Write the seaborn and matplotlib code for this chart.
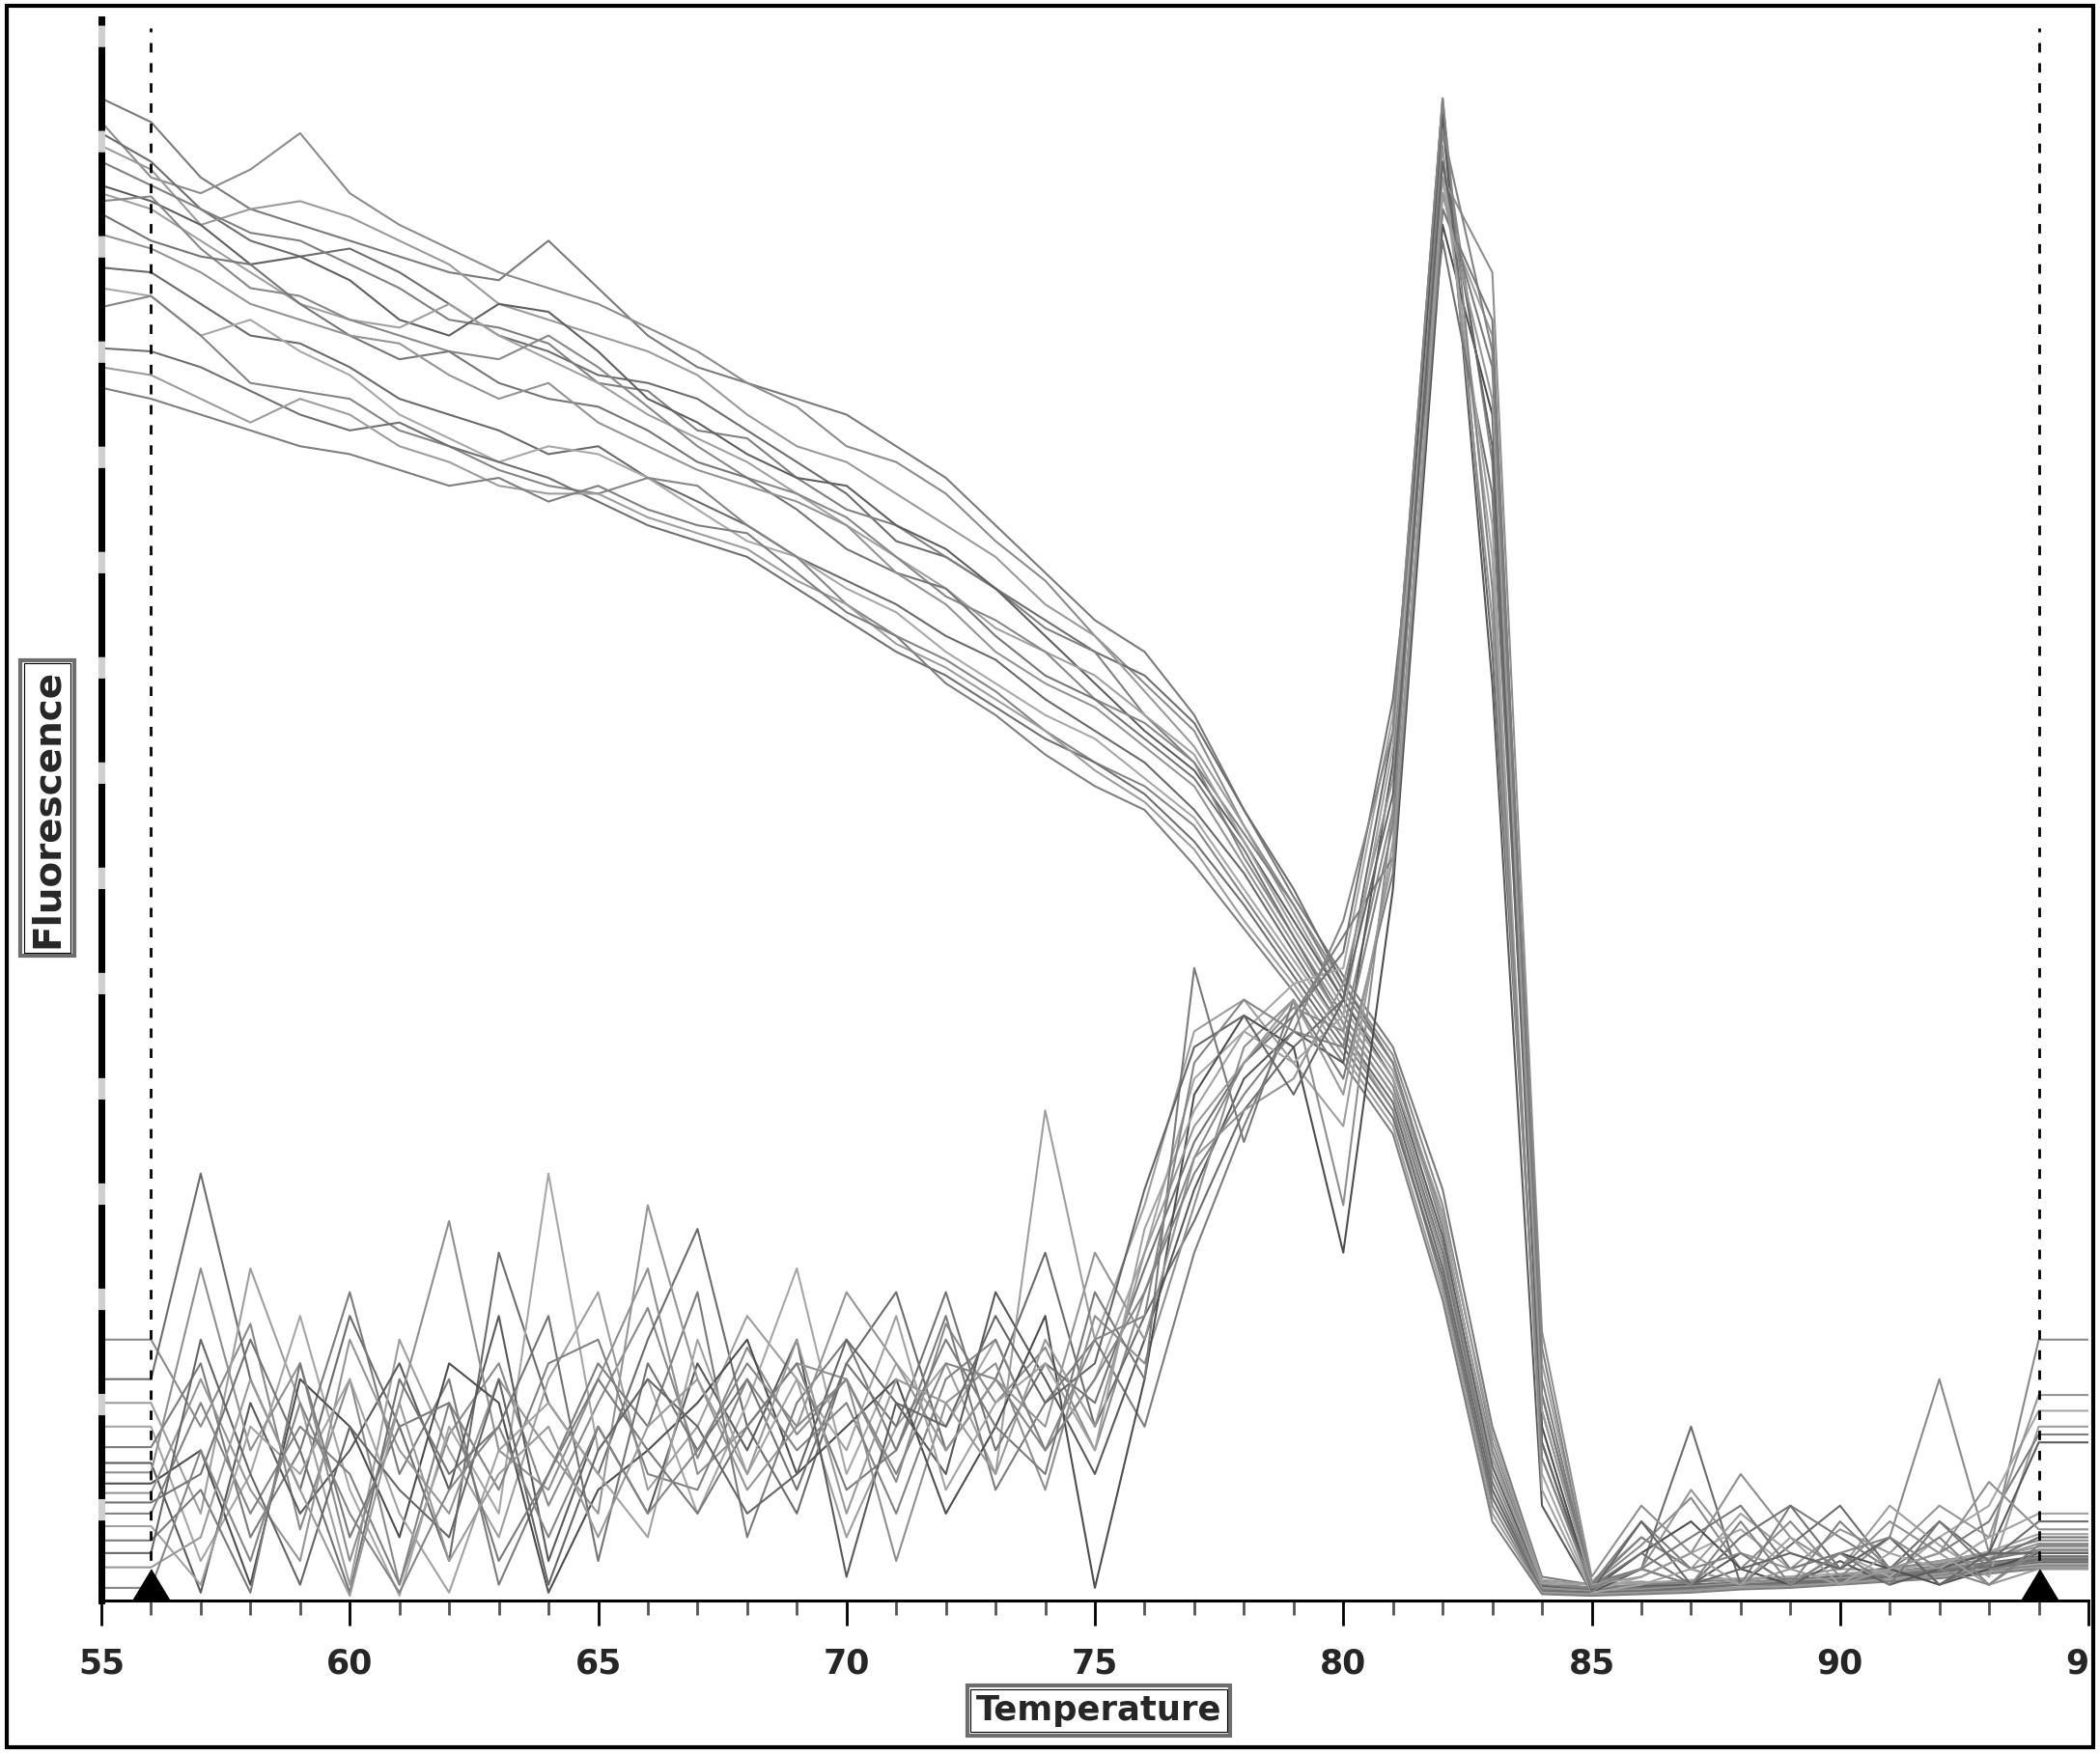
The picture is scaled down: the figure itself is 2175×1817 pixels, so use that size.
import pandas as pd
import seaborn as sns
import matplotlib
matplotlib.use('Agg')
import matplotlib.pyplot as plt
from matplotlib.patches import Rectangle
from matplotlib.transforms import Bbox, TransformedBbox, offset_copy

# Temperature steps (deg C), one reading per degree
temps = list(range(55, 96))
cursor_temps = [56, 94]
x_ticks = list(range(55, 96, 5))
x_labels = [str(t) for t in x_ticks]

# Melt curves (raw fluorescence, arbitrary units 0-100)
melt_a = [95, 93.5, 90, 88, 87, 86, 85, 84, 83.5, 86, 83, 80, 78, 77, 76, 75, 73, 71, 68, 65, 62, 60,
          56, 50, 44.5, 39.5, 35, 26, 11, 1.5, 1, 0.8, 1, 1.2, 1, 1.5, 1.8, 2.2, 2.6, 3.2, 3.2]
melt_b = [93.5, 90, 89, 90.5, 92.8, 89, 87, 85.5, 84, 83, 82, 80.5, 79, 77, 75.5, 73, 72, 70, 67, 64.5, 61, 58,
          55, 49, 44, 39, 34.5, 25, 10, 1.2, 0.8, 1, 1.1, 0.9, 1.3, 1.6, 2, 2.5, 3, 3.8, 3.8]
melt_c = [92.8, 91, 88, 86, 85, 85.5, 84, 82, 80, 79, 77.5, 77, 76, 74, 72, 70, 67, 66, 64, 62, 60, 58.5,
          55.5, 50, 45, 39, 34, 24, 9, 1, 0.7, 0.9, 1, 1.1, 1.4, 1.2, 1.7, 2, 2.4, 2.8, 2.8]
melt_d = [92, 90.5, 87, 88, 88.5, 87.5, 86, 84.5, 82, 81, 80, 79, 77.5, 75, 73, 72, 70, 68, 66, 63, 61, 57.5,
          54, 49, 43.5, 38, 33.5, 24.5, 10.5, 1.3, 1, 1.2, 0.9, 1.3, 1.5, 2, 1.9, 2.5, 2.7, 3.4, 3.4]
melt_e = [91, 89.5, 88, 86.5, 86, 84.5, 83, 81, 80.5, 79.5, 77, 76.5, 74, 73.5, 71, 69, 68, 66, 64, 61.5, 60, 56,
          53, 48.5, 44, 38.5, 34, 23.5, 9.5, 1, 0.8, 1, 1.2, 1.3, 1.1, 1.6, 2.1, 2.3, 2.9, 3, 3]
melt_f = [89.5, 88.5, 87, 84.5, 85, 83.5, 81, 80, 82, 81.5, 79, 76, 74.5, 72.5, 71, 70.5, 68, 66.5, 64, 61, 58, 55,
          52.5, 48, 43, 38, 33, 23, 8.5, 0.9, 0.6, 0.9, 1, 1.1, 1.3, 1.5, 1.6, 2, 2.2, 2.6, 2.6]
melt_g = [89, 88, 86, 84, 82, 81, 80.5, 82, 80, 78.5, 77, 75, 73.5, 72, 70, 68, 66, 64, 61.5, 60, 58.5, 56,
          53.5, 48, 42.5, 37.5, 33, 24, 9, 1.1, 1, 1.1, 1.3, 1.4, 1.5, 1.7, 1.9, 2.4, 3.1, 4.2, 4.2]
melt_h = [88.5, 88.8, 85.5, 83, 82.5, 81, 80, 79, 78.5, 80, 78, 75.5, 73, 71, 70, 68.5, 66, 63.5, 62, 60, 57, 55.5,
          53, 47, 42, 37, 32.5, 22.5, 8, 0.8, 0.5, 0.7, 0.8, 1, 1.2, 1.4, 1.7, 2, 2.3, 2.7, 2.7]
melt_i = [87.7, 86, 85, 84.5, 82, 80, 78.5, 79, 77, 76, 75.5, 74, 72, 71, 69, 66.5, 65, 64, 61, 58.5, 57, 54.5,
          52, 47.5, 42, 36.5, 32, 22, 7.5, 0.7, 0.6, 0.8, 0.9, 1, 1.2, 1.3, 1.6, 1.9, 2.2, 2.5, 2.5]
melt_j = [86.4, 85.5, 84, 82, 81, 80, 79.5, 77.5, 76, 77, 74.5, 73, 71.5, 70.5, 69.5, 68, 65, 63, 60, 58, 56.5, 54,
          51.5, 46.5, 41.5, 36.5, 32, 21.5, 7, 0.8, 0.6, 0.7, 0.9, 1.1, 1.3, 1.4, 1.8, 2.1, 2.6, 3.6, 3.6]
melt_k = [84.3, 84, 82, 80, 79.5, 78, 76, 75, 74, 72.5, 73, 71, 69.5, 68, 66, 64.5, 63, 61, 59.5, 57, 55, 53,
          50, 46, 41, 36, 31.5, 21, 7, 0.6, 0.5, 0.6, 0.8, 0.9, 1.1, 1.3, 1.5, 1.8, 2.1, 2.4, 2.4]
melt_l = [83, 82.5, 80, 81, 79, 77.5, 75, 73.5, 72, 73, 72.5, 71, 69, 67, 66, 64, 62.5, 60, 58, 56, 54.5, 52,
          49.5, 45, 40.5, 36, 31, 20.5, 6.5, 0.6, 0.4, 0.6, 0.7, 0.9, 1, 1.2, 1.4, 1.7, 2, 2.3, 2.3]
melt_m = [81.8, 82.5, 80, 77, 76.5, 76, 74, 73, 71.5, 70.5, 70, 71, 70.5, 68, 66, 63, 61, 59.5, 57.5, 55, 53, 51.5,
          49, 44.5, 40, 35.5, 31, 20, 6, 0.5, 0.4, 0.5, 0.7, 0.8, 1, 1.1, 1.3, 1.6, 1.9, 2.2, 2.2]
melt_n = [79.2, 79, 78, 76.5, 75, 74, 74.5, 73, 72, 71, 69.5, 68, 67, 66, 64, 62, 60, 58.5, 56.5, 54.5, 53, 51,
          48, 44, 39.5, 35, 30.5, 20.5, 6.5, 0.6, 0.5, 0.6, 0.8, 1, 1.1, 1.2, 1.5, 1.8, 2.2, 2.6, 2.6]
melt_o = [78, 77.5, 76, 74.5, 76, 75, 73, 72, 70.5, 70, 70, 68.5, 67.5, 66.5, 64.5, 63, 60.5, 59, 57, 55, 52.5, 50.5,
          47.5, 43, 39, 34.5, 30, 19.5, 5.5, 0.5, 0.4, 0.5, 0.6, 0.8, 0.9, 1.1, 1.3, 1.5, 1.8, 2.1, 2.1]
melt_p = [76.7, 76, 75, 74, 73, 72.5, 71.5, 70.5, 71, 69.5, 70.5, 69, 68, 67.5, 65, 62.5, 61, 58, 56, 53.5, 51.5, 50,
          46.5, 42.5, 38.5, 34, 29.5, 19, 5, 0.4, 0.3, 0.4, 0.5, 0.7, 0.8, 1, 1.2, 1.4, 1.7, 2, 2]

# Derivative curves (-dF/dT), same scale
deriv_a = [16.5, 16.5, 11, 17.5, 4.5, 14, 1, 10.5, 15, 6, 12.5, 18.5, 9, 16, 10.5, 14, 7.5, 17.5, 12.5, 16, 9.5, 19.5,
           28, 34, 37.5, 36, 50, 93, 72, 12, 1, 3.5, 6.5, 2, 5, 1.5, 4, 14, 3, 16.5, 16.5]
deriv_b = [14, 14, 27, 14, 7, 18, 11, 2.5, 22, 12.5, 8, 16.5, 23.5, 11, 5.5, 15, 19.5, 9.5, 14, 22, 11, 18,
           24, 31, 35, 38, 55, 95, 60, 10, 0.8, 2, 11, 1, 3.5, 6, 2, 5, 2.5, 5, 5]
deriv_c = [12.5, 12.5, 5.5, 21, 12.5, 1, 16.5, 9.5, 4, 14, 19.5, 7, 11, 18, 14, 4, 11, 15, 8, 31, 16.5, 25,
           36, 38, 34, 30, 48, 88, 80, 15, 1.2, 4, 2, 5.5, 3, 2, 6, 3.5, 1.5, 11, 11]
deriv_d = [11, 11, 2.5, 8, 18, 7, 0.3, 11, 5.5, 27, 9.5, 14, 5.5, 12.5, 21, 8, 15, 11, 16.5, 9.5, 14, 22,
           33, 36, 39, 40, 56, 91, 66, 8, 0.6, 1.5, 3, 4.5, 2, 3, 1.5, 4, 6, 12, 12]
deriv_e = [9.7, 9.7, 15, 4, 9.5, 19.5, 8, 14, 1, 8, 15, 11, 19.5, 4, 12.5, 16.5, 9.5, 18, 7, 12.5, 16.5, 11,
           22, 30, 37, 42, 47, 89, 78, 14, 1, 5, 2, 1, 6, 4, 2, 3, 5, 10.5, 10.5]
deriv_f = [8.7, 8.7, 0.5, 12.5, 5.5, 9.5, 15, 7, 18, 2.5, 11, 5.5, 15, 9.5, 16.5, 1.5, 12.5, 8, 19.5, 14, 8, 16.5,
           26, 33, 36, 34, 53, 94, 58, 6, 0.5, 2, 1, 3, 1, 2.5, 1, 2, 3, 10, 10]
deriv_g = [8.1, 8.1, 21, 9.5, 15, 2.5, 12.5, 24, 9.5, 7, 14, 21, 8, 11, 15, 14, 2.5, 12.5, 15, 7, 18, 15,
           25, 35, 38, 25, 50, 90, 84, 17, 1.5, 6, 3, 8, 4, 2, 5, 3, 7.5, 4.5, 4.5]
deriv_h = [7.4, 7.4, 9.5, 1, 14, 11, 4, 15, 12.5, 0.5, 7, 9.5, 12.5, 16.5, 8, 11, 14, 5.5, 11, 18, 0.8, 14,
           32, 37, 35, 22, 45, 87, 75, 11, 0.7, 3, 5, 2, 1, 3, 2, 1, 2, 3, 3]
deriv_i = [6.8, 6.8, 14, 7, 2.5, 16.5, 9.5, 5.5, 14, 9.5, 5.5, 25, 14, 7, 11, 19.5, 15, 9.5, 14, 11, 22, 16.5,
           28, 31, 33, 39, 52, 92, 62, 9, 1, 2, 7, 3, 2, 4.5, 3, 6, 4, 13, 13]
deriv_j = [6.2, 6.2, 8, 16.5, 9.5, 0.5, 14, 8, 11, 18, 2.5, 15, 9.5, 14, 7, 15, 11, 19.5, 9.5, 15, 12.5, 21,
           29, 34, 37, 41, 57, 86, 70, 13, 0.9, 3, 1, 4, 6, 2, 4, 1, 2.5, 4, 4]
deriv_k = [5.5, 5.5, 12.5, 5.5, 11, 8, 1, 12.5, 7, 15, 16.5, 8, 7, 14, 9.5, 12.5, 5.5, 14, 16.5, 9.5, 14, 19.5,
           27, 32, 36, 35, 49, 93, 79, 16, 1, 4, 2, 3, 1, 5, 2, 4, 1, 3.5, 3.5]
deriv_l = [4.7, 4.7, 1, 11, 8, 14, 5.5, 0.5, 9.5, 12.5, 8, 4, 16.5, 8, 14, 9.5, 18, 7, 12.5, 15, 9.5, 23.5,
           31, 36, 34, 37, 54, 90, 68, 7, 0.5, 1, 2, 1, 4, 1, 3, 2, 4, 5.5, 5.5]
deriv_m = [3.8, 3.8, 7, 0.5, 15, 4, 11, 12.5, 2.5, 8, 14, 9.5, 5.5, 11, 15, 7, 9.5, 16.5, 11, 8, 19.5, 14,
           40, 29, 38, 33, 46, 88, 81, 13, 1.1, 2, 4, 6, 2, 3, 1, 5, 2, 2.5, 2.5]
deriv_n = [3, 3, 16.5, 8, 1, 11, 7, 4, 14, 1, 9.5, 14, 11, 5.5, 8, 16.5, 12.5, 11, 18, 12.5, 15, 26,
           35, 37, 32, 38, 51, 91, 73, 10, 0.6, 5, 1, 2, 3, 2, 4, 1, 3, 3, 3]
deriv_o = [2.1, 2.1, 4, 14, 7, 0.3, 12.5, 2.5, 8, 11, 4, 11, 14, 8, 16.5, 5.5, 14, 12.5, 8, 16.5, 11, 22,
           30, 34, 38, 32, 47, 89, 76, 12, 1, 1.5, 3, 1, 2, 1, 2, 3, 1, 2, 2]
deriv_p = [0.8, 0.8, 9.5, 2.5, 12.5, 5.5, 0.5, 7, 11, 4, 11, 5.5, 9.5, 15, 11, 14, 8, 15, 14, 9.5, 16.5, 18,
           34, 38, 36, 43, 55, 95, 64, 9, 0.8, 2, 1, 5, 1, 3, 4, 2, 1, 3.2, 3.2]

melt_curves = [melt_a, melt_b, melt_c, melt_d, melt_e, melt_f, melt_g, melt_h,
               melt_i, melt_j, melt_k, melt_l, melt_m, melt_n, melt_o, melt_p]
deriv_curves = [deriv_a, deriv_b, deriv_c, deriv_d, deriv_e, deriv_f, deriv_g, deriv_h,
                deriv_i, deriv_j, deriv_k, deriv_l, deriv_m, deriv_n, deriv_o, deriv_p]

# Long-form table for seaborn
frames = []
for i, vals in enumerate(melt_curves):
    frames.append(pd.DataFrame({'temp': temps, 'value': vals, 'curve': f'melt_{i}'}))
for i, vals in enumerate(deriv_curves):
    frames.append(pd.DataFrame({'temp': temps, 'value': vals, 'curve': f'deriv_{i}'}))
df = pd.concat(frames, ignore_index=True)

melt_grays = ['#7a7a7a', '#8c8c8c', '#6e6e6e', '#9a9a9a', '#808080', '#5f5f5f', '#a0a0a0', '#888888',
              '#767676', '#949494', '#6a6a6a', '#a8a8a8', '#858585', '#707070', '#9d9d9d', '#7f7f7f']
deriv_grays = ['#8a8a8a', '#6c6c6c', '#9e9e9e', '#a6a6a6', '#7c7c7c', '#5a5a5a', '#8f8f8f', '#4e4e4e',
               '#959595', '#737373', '#828282', '#a2a2a2', '#7a7a7a', '#666666', '#999999', '#858585']
palette = {f'melt_{i}': c for i, c in enumerate(melt_grays)}
palette.update({f'deriv_{i}': c for i, c in enumerate(deriv_grays)})

sns.set_style('white')
plt.rcParams['font.family'] = ['DejaVu Sans']

W, H = 2175, 1817
fig = plt.figure(figsize=(W / 100, H / 100), dpi=100)
ax = fig.add_axes([105 / W, 1 - 1658 / H, (2163 - 105) / W, (1658 - 20) / H])

sns.lineplot(data=df, x='temp', y='value', hue='curve', palette=palette, estimator=None,
             sort=False, legend=False, lw=1.5, ax=ax)

ax.set_xlim(55, 95)
ax.set_ylim(0, 100)
ax.set_xlabel('')
ax.set_ylabel('')
ax.set_yticks([])

# axes frame: dashed heavy left edge over a light grey track, plain bottom edge
for side in ['top', 'right']:
    ax.spines[side].set_visible(False)
ax.axvline(55, color='#cfcfcf', lw=5, zorder=2.4, clip_on=False)
ax.spines['left'].set_color('black')
ax.spines['left'].set_linewidth(5)
ax.spines['left'].set_linestyle((0, (11.5, 4.2)))
ax.spines['bottom'].set_color('black')
ax.spines['bottom'].set_linewidth(2.2)

ax.set_xticks(x_ticks)
ax.set_xticklabels(x_labels, fontsize=25, fontweight='bold')
ax.set_xticks(temps, minor=True)
ax.tick_params(axis='x', which='major', bottom=True, direction='out', length=19, width=2,
               color='black', pad=16)
ax.tick_params(axis='x', which='minor', bottom=True, direction='out', length=11, width=2,
               color='#555555')

# cursor lines and markers
for t in cursor_temps:
    ax.axvline(t, ymin=0, ymax=0.9945, color='black', lw=2, ls=(0, (3.5, 4)), zorder=5)
tri = [(-1, -0.83), (1, -0.83), (0, 0.83)]
ax.plot(cursor_temps, [0] * len(cursor_temps), ls='none', marker=tri, ms=28.8, color='black',
        clip_on=False, zorder=6, transform=offset_copy(ax.transData, fig=fig, y=16.5, units='dots'))

# clip the last tick label at the frame like the source
clip = TransformedBbox(Bbox([[0, 0], [2164 / W, 1]]), fig.transFigure)
for lbl in ax.get_xticklabels():
    lbl.set_clip_box(clip)
    lbl.set_clip_on(True)

# boxed axis titles
t_x = fig.text(1138 / W, 1 - 1772 / H, 'Temperature', ha='center', va='center', fontsize=25.5,
               fontweight='bold',
               bbox=dict(boxstyle='square,pad=0.25', fc='white', ec='#6e6e6e', lw=3))
t_y = fig.text(49 / W, 1 - 837 / H, 'Fluorescence', ha='center', va='center', rotation=90,
               fontsize=28, fontweight='bold',
               bbox=dict(boxstyle='square,pad=0.22', fc='white', ec='#6e6e6e', lw=3))

fig.canvas.draw()
renderer = fig.canvas.get_renderer()
for t in (t_x, t_y):
    bb = t.get_bbox_patch().get_window_extent(renderer)
    fig.add_artist(Rectangle(((bb.x0 + 3.5) / W, (bb.y0 + 3.5) / H), (bb.width - 7) / W,
                             (bb.height - 7) / H, transform=fig.transFigure, fill=False,
                             ec='black', lw=0.8, zorder=12))

# outer border of the picture
fig.add_artist(Rectangle((7 / W, 7 / H), (2168 - 7) / W, (1811 - 7) / H, transform=fig.transFigure,
                         fill=False, ec='black', lw=3, zorder=10))

fig.savefig('out.png', dpi=100, facecolor='white')
